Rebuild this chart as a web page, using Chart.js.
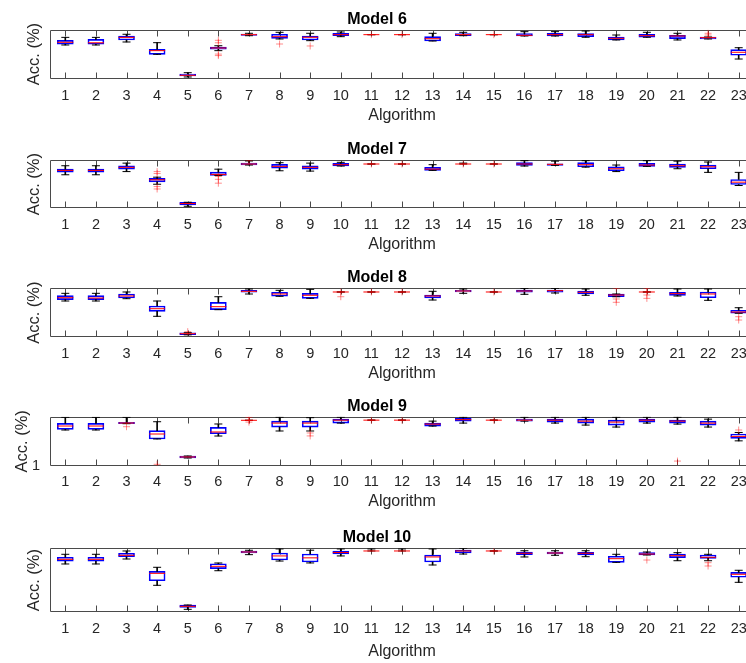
<!DOCTYPE html>
<html>
<head>
<meta charset="utf-8">
<script src="https://cdn.jsdelivr.net/npm/chart.js@4.4.1/dist/chart.umd.min.js"></script>
<style>
html,body{margin:0;padding:0;background:#fff;}
#wrap{position:relative;width:746px;height:663px;overflow:hidden;background:#fff;}
#wrap canvas{position:absolute;left:0;}
</style>
</head>
<body>
<div id="wrap"></div>
<script>
// ---------------- data ----------------
const algorithms = ['1','2','3','4','5','6','7','8','9','10','11','12','13','14','15','16','17','18','19','20','21','22','23'];
const modelNames = ['Model 6','Model 7','Model 8','Model 9','Model 10'];

// Model 6
const m6Low  = [68.5,68.5,74.6,49.6,3.5,57,87.4,80.7,77.3,85.4,89.5,89.5,76.6,87.4,89.5,86.8,86.8,84.2,78.7,84.2,78.7,80.7,40];
const m6Q1   = [70,70,78.7,49.6,5.5,59.8,88.2,82.1,78.7,87.4,89.5,89.5,76.6,87.4,89.5,86.8,86.8,85.4,78.7,84.2,81.3,80.7,47.6];
const m6Med  = [74,73,84,57,6.9,62.4,89.5,85.4,84.2,89.5,89.5,89.5,81.3,89.5,89.5,88.2,89.5,89.5,82.1,87.4,86.8,83.4,53.7];
const m6Q3   = [78,80,86.8,59.8,9.6,64.4,90.9,90.3,86.8,92.3,89.5,89.5,85.4,91.5,89.5,91.5,92.3,91.5,84.8,90.3,88.2,84.8,59];
const m6High = [84,84,90.3,73.2,12.2,67,92.3,94.3,92.3,94.9,89.5,89.5,92.3,94.3,89.5,95.6,95.6,97,88.8,94.3,92.3,84.8,63];
const m6Out  = [[6,73],[6,78],[6,50],[6,47],[8,70.5],[9,66.5],[11,89.5],[12,89.5],[15,89.5],[22,92.3],[22,88.8]];

// Model 7
const m7Low  = [69.4,69.4,76,49.8,4.2,68.1,89.6,77.7,77,87.5,91.7,91.7,78.5,91.7,91.7,87.5,88.9,85.2,76,86.8,81.9,74.4,47.2];
const m7Q1   = [75,75,81.2,54.8,6.9,68.1,89.6,83.3,81.2,87.5,91.7,91.7,78.5,91.7,91.7,88.9,88.9,86,77.7,86.8,84.8,81.9,49.3];
const m7Med  = [78.5,78.5,84.8,59,9.8,70.2,91.7,86.8,84.8,90.3,91.7,91.7,81.2,91.7,91.7,91.7,91,90.3,81.9,89.6,88.1,86,54.1];
const m7Q3   = [81.2,81.2,88.1,61.9,12.5,75,93.7,91,88.1,93.1,91.7,91.7,84.8,91.7,91.7,94.4,92.3,94.4,86,93.1,91.7,89.6,59.7];
const m7High = [88.1,88.1,93.5,64.4,12.5,81,98,94.4,93.5,95.2,91.7,91.7,90.3,93.5,91.7,98.6,97.7,98.6,89.6,98.6,97.7,95.8,74.4];
const m7Out  = [[4,76],[4,72],[4,45],[4,40],[6,66],[6,60],[6,52],[7,99.5],[11,91.7],[12,91.7],[14,91.7],[15,91.7]];

// Model 8
const m8Low  = [73.6,73.6,78.3,42.6,5,56,87.8,83.2,79.1,91.9,91.9,91.9,75.6,89.2,91.9,87.2,89.8,85.2,82.3,91.9,83.8,75,48.7];
const m8Q1   = [76.3,76.3,79.7,52.7,5.3,56,91.3,83.2,79.1,91.9,91.9,91.9,79.7,91.9,91.9,91.3,91.3,87.8,82.3,91.9,85.2,80.3,48.7];
const m8Med  = [80.3,79.7,83.8,58,7.3,62.1,93.3,87.8,85.2,91.9,91.9,91.9,83.8,93.9,91.9,93.9,94.6,91.3,85.8,91.9,88.5,87.8,51.3];
const m8Q3   = [84.4,84.4,87.8,63.5,9.3,71,95.3,91.3,89.2,91.9,91.9,91.9,85.8,95.3,91.9,95.9,95.9,93.9,87.8,91.9,91.3,91.9,54.8];
const m8High = [89.2,89.2,91.9,73.6,9.3,82.3,98,95.3,97.3,91.9,91.9,91.9,93.3,98,91.9,99.4,99.4,98,87.8,91.9,98,98,60];
const m8Out  = [[5,11.4],[10,91.9],[10,82.3],[11,91.9],[12,91.9],[15,91.9],[19,99.5],[19,77.7],[19,71],[20,99.5],[20,91.9],[20,85.8],[20,79],[23,41.8],[23,35]];

// Model 9 (axis starts at 1)
const m9Low  = [74,74,86.8,55.8,17.2,61.8,93.7,72,72,88,94,94,82,88,94,92,88,84,80,88,86,80,52];
const m9Q1   = [75.4,75.4,86.8,55.8,17.2,66.5,93.7,80,80,88,94,94,82,92,94,92,90,88,84,90,88,84,57];
const m9Med  = [82.1,82.1,88.2,65.9,19.3,70,93.7,88,88,94,94,94,86,95,94,94,94,92,90,94,92,88,61];
const m9Q3   = [87.6,87.6,89.6,72.6,21.3,79.5,93.7,92,92,96,94,94,88,98,94,96,96,96,94,96,94,92,66];
const m9High = [99.8,99.8,99.8,90.8,21.3,86.2,93.7,100,99,100,94,94,92,100,94,100,100,100,100,100,100,96,69];
const m9Out  = [[3,80.7],[4,4.4],[7,99.8],[7,93.7],[7,90],[9,68],[9,62],[11,94],[12,94],[15,94],[21,11],[23,74]];

// Model 10
const m10Low  = [75.4,75.4,83.2,41.9,4.2,64.8,90,80,77,88,95.8,95.8,73.8,91,95.8,86.4,89,86.8,78,89.5,80.5,80.5,46.6];
const m10Q1   = [79.6,79.6,86.8,49.1,7.3,68,92.6,81.6,78.5,91,95.8,95.8,78.5,92.6,95.8,90,91,89.5,78,89.5,85.3,84.3,54.5];
const m10Med  = [82.7,82.7,89,60.7,8.9,71.7,94.2,88,85,93.4,95.8,95.8,86.4,95.8,95.8,92.2,92.6,92.2,83.7,91,88.4,85.9,59.2];
const m10Q3   = [85.9,85.9,92.2,63.9,11,75.8,95.8,92.6,91,95.8,95.8,95.8,89.5,97.3,95.8,94.2,94.2,93.7,87.5,93.1,91,89.5,62.3];
const m10High = [90.6,90.6,95.8,70.2,11,76.9,96.9,99,97,99,99,99,99,100,95.8,96.2,96.2,96.2,90.6,94.2,93.1,90.6,65.5];
const m10Out  = [[15,95.8],[20,81.6],[22,77.4],[22,72.2]];

// y-axis ranges and the only labelled tick
const yMins = [0,0,0,1,0];
const yMaxs = [100,100,100,101,100];
const yTickValues = [null,null,null,1,null];

// ---------------- layout (pixels) ----------------
const layouts = [
  {titleY:19.7, top:29.5, bottom:78.7, tickY:96.2, xlabY:115.5, ylabX:34.7},
  {titleY:149.7, top:160, bottom:208.3, tickY:225, xlabY:244.5, ylabX:34.7},
  {titleY:277.8, top:288, bottom:337.3, tickY:353.5, xlabY:373.5, ylabX:34.7},
  {titleY:407, top:416.7, bottom:466, tickY:482, xlabY:502, ylabX:22.5},
  {titleY:537.5, top:548.3, bottom:612, tickY:629, xlabY:651.5, ylabX:34.7}
];

const FONT = '"Liberation Sans", Arial, Helvetica, sans-serif';
const TXT = '#262626';
const AX = '#4a4a4a';

const framePlugin = {
  id: 'frame',
  beforeDatasetsDraw(chart) {
    const {ctx, chartArea: a, scales} = chart;
    const x = scales.x;
    ctx.save();
    ctx.strokeStyle = AX;
    ctx.lineWidth = 1;
    const l = Math.round(a.left) + 0.5, r = Math.round(a.right) - 0.5;
    const t = Math.round(a.top) + 0.5, b = Math.round(a.bottom) - 0.5;
    ctx.beginPath();
    ctx.rect(l, t, r - l, b - t);
    x.ticks.forEach((tk, i) => {
      const px = Math.round(x.getPixelForTick(i)) + 0.5;
      ctx.moveTo(px, b); ctx.lineTo(px, b - 6);
      ctx.moveTo(px, t); ctx.lineTo(px, t + 6);
    });
    ctx.stroke();
    ctx.restore();
  }
};

function makeChart(idx, lo, q1, med, q3, hi, outs) {
  const L = layouts[idx];
  const T = Math.floor(L.top - 32);
  const H = Math.ceil(L.xlabY + 14) - T;
  const W = 800;
  const canvas = document.createElement('canvas');
  canvas.width = W; canvas.height = H;
  canvas.style.top = T + 'px';
  canvas.style.width = W + 'px'; canvas.style.height = H + 'px';
  document.getElementById('wrap').appendChild(canvas);

  const titleSize = 16, tickSize = 14.5, xlabSize = 16, ylabSize = 16.5;
  const titleLH = titleSize * 1.2;
  const padTop = L.titleY - T - titleLH / 2;
  const padBot = (L.top - T) - titleLH - padTop;
  const xAxisH = H - (L.bottom - T);
  const tickPad = L.tickY - L.bottom - tickSize * 1.2 / 2;
  const xlabPadBottom = H - (L.xlabY - T) - xlabSize * 1.2 / 2;
  const ylabPadTop = L.ylabX - ylabSize * 1.2 / 2;

  const boxes = algorithms.map((a, i) => [q1[i], q3[i]]);
  const upper = algorithms.map((a, i) => [q3[i], hi[i]]);
  const lower = algorithms.map((a, i) => [lo[i], q1[i]]);
  const caps = [];
  algorithms.forEach((a, i) => { caps.push({x: a, y: hi[i]}); caps.push({x: a, y: lo[i]}); });
  const meds = algorithms.map((a, i) => ({x: a, y: med[i]}));
  const outPts = outs.map(o => ({x: String(o[0]), y: o[1]}));
  const yTick = yTickValues[idx];

  new Chart(canvas, {
    type: 'bar',
    data: {
      labels: algorithms,
      datasets: [
        {type: 'line', data: outPts, showLine: false, pointStyle: 'cross', pointRadius: 3.5,
         pointBorderColor: 'rgba(255,0,0,0.45)', pointBorderWidth: 1, order: 1},
        {type: 'line', data: meds, showLine: false, pointStyle: 'line', pointRadius: 8,
         pointBorderColor: '#ff0000', pointBorderWidth: 1, order: 2},
        {type: 'line', data: caps, showLine: false, pointStyle: 'line', pointRadius: 4,
         pointBorderColor: '#000000', pointBorderWidth: 1, order: 3},
        {type: 'bar', data: upper, backgroundColor: '#000000', borderWidth: 0, barThickness: 1, grouped: false, order: 4},
        {type: 'bar', data: lower, backgroundColor: '#000000', borderWidth: 0, barThickness: 1, grouped: false, order: 4},
        {type: 'bar', data: boxes, backgroundColor: 'rgba(0,0,0,0)', borderColor: '#0000ff', borderWidth: 1,
         borderSkipped: false, barThickness: 16, grouped: false, order: 5}
      ]
    },
    options: {
      responsive: false,
      animation: false,
      devicePixelRatio: 1,
      events: [],
      layout: {padding: {left: 0, right: 46, top: 0, bottom: 0}},
      plugins: {
        legend: {display: false},
        tooltip: {enabled: false},
        title: {display: true, text: modelNames[idx], color: '#000',
                font: {family: FONT, size: titleSize, weight: 'bold'},
                padding: {top: padTop, bottom: padBot}}
      },
      scales: {
        x: {
          type: 'category', offset: true,
          grid: {display: false, drawTicks: false},
          border: {display: false},
          ticks: {color: TXT, font: {family: FONT, size: tickSize}, padding: tickPad,
                  maxRotation: 0, autoSkip: false},
          title: {display: true, text: 'Algorithm', color: TXT,
                  font: {family: FONT, size: xlabSize}, padding: {top: 0, bottom: xlabPadBottom}},
          afterFit: s => { s.height = xAxisH; }
        },
        y: {
          type: 'linear', min: yMins[idx], max: yMaxs[idx],
          grid: {display: false, drawTicks: false},
          border: {display: false},
          ticks: {display: yTick !== null, color: TXT, font: {family: FONT, size: tickSize}, padding: 10},
          afterBuildTicks: s => { s.ticks = yTick !== null ? [{value: yTick}] : []; },
          title: {display: true, text: 'Acc. (%)', color: TXT,
                  font: {family: FONT, size: ylabSize}, padding: {top: ylabPadTop, bottom: 0}},
          afterFit: s => { s.width = 50; }
        }
      }
    },
    plugins: [framePlugin]
  });
}

makeChart(0, m6Low, m6Q1, m6Med, m6Q3, m6High, m6Out);
makeChart(1, m7Low, m7Q1, m7Med, m7Q3, m7High, m7Out);
makeChart(2, m8Low, m8Q1, m8Med, m8Q3, m8High, m8Out);
makeChart(3, m9Low, m9Q1, m9Med, m9Q3, m9High, m9Out);
makeChart(4, m10Low, m10Q1, m10Med, m10Q3, m10High, m10Out);
</script>
</body>
</html>
